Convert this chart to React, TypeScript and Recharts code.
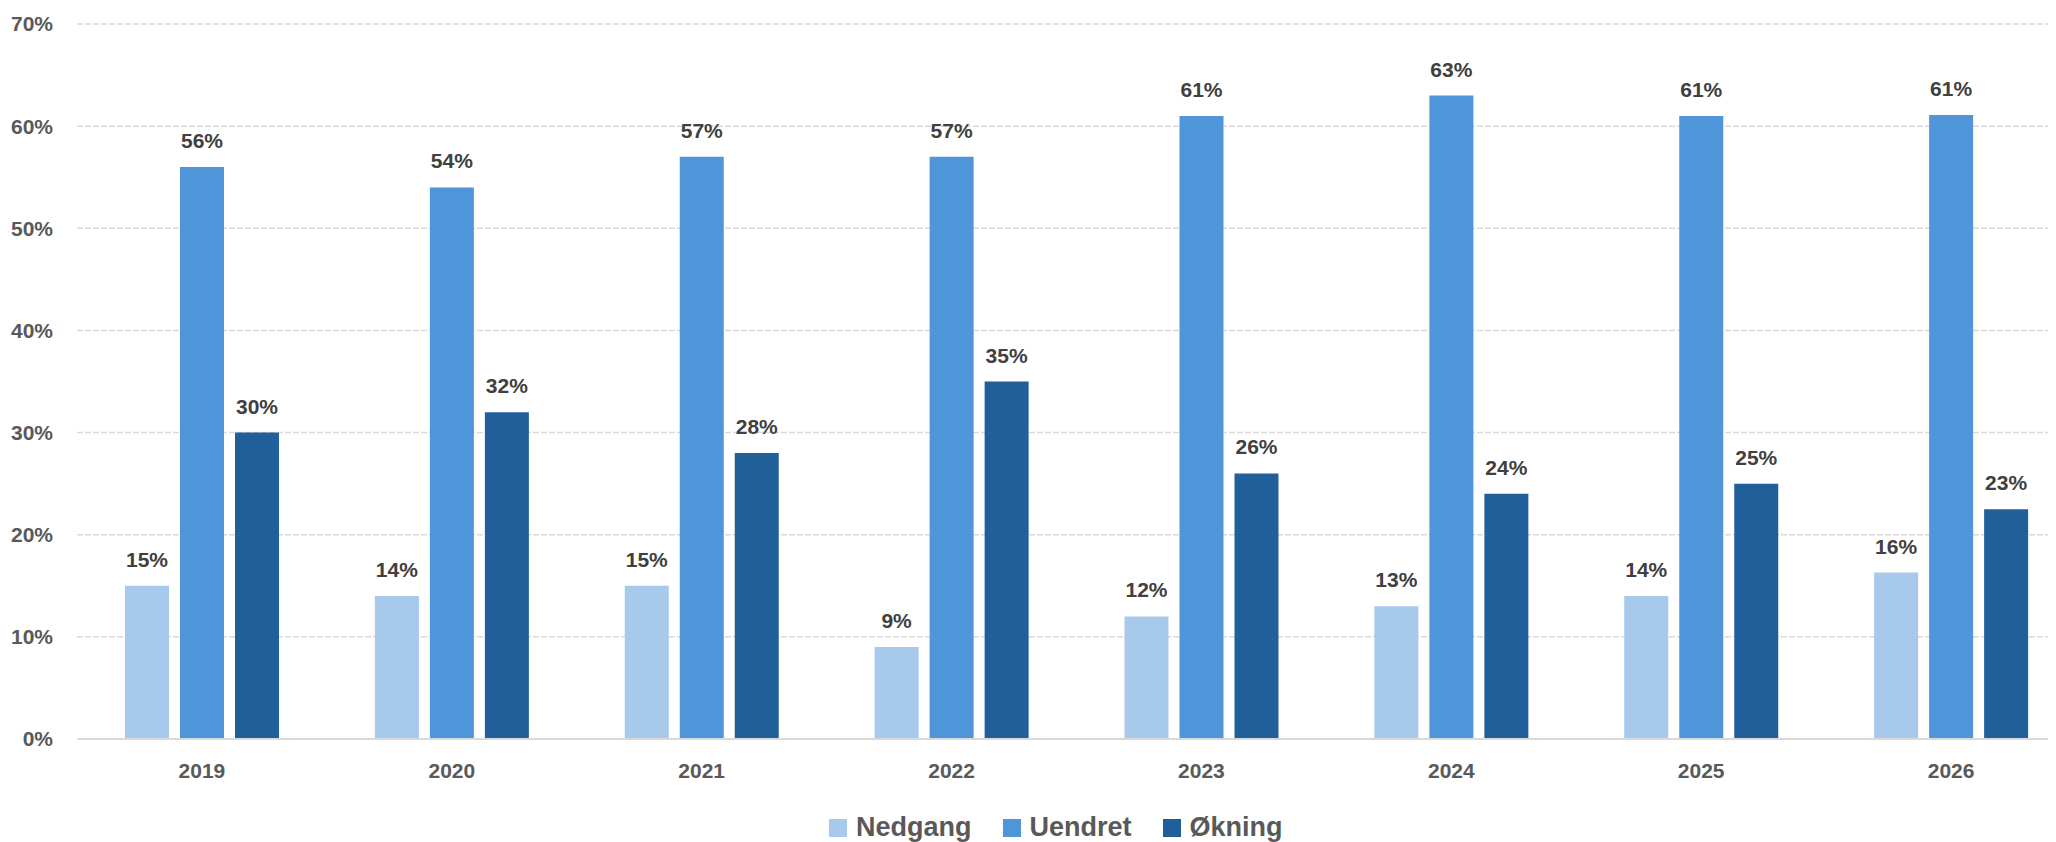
import { BarChart, Bar, XAxis, YAxis, CartesianGrid, Legend, LabelList } from "recharts";

const YEARS = ["2019", "2020", "2021", "2022", "2023", "2024", "2025", "2026"];
const NEDGANG = [15, 14, 15, 9, 12, 13, 14, 16.3];
const UENDRET = [56, 54, 57, 57, 61, 63, 61, 61.1];
const OKNING = [30, 32, 28, 35, 26, 24, 25, 22.5];
const Y_TICKS = [0, 10, 20, 30, 40, 50, 60, 70];

const SERIES = [
  { key: "nedgang", name: "Nedgang", color: "#A6C9EC" },
  { key: "uendret", name: "Uendret", color: "#4E95D9" },
  { key: "okning", name: "Økning", color: "#215F9A" },
];

const data = YEARS.map((year, i) => ({
  year,
  nedgang: NEDGANG[i],
  uendret: UENDRET[i],
  okning: OKNING[i],
}));

const FONT = '"Liberation Sans", Arial, sans-serif';

const LegendContent = () => (
  <div style={{ display: "flex", alignItems: "center", fontFamily: FONT }}>
    {SERIES.map((s, i) => (
      <div
        key={s.key}
        style={{ display: "flex", alignItems: "center", marginLeft: i === 0 ? 0 : 31 }}
      >
        <span style={{ width: 18, height: 18, background: s.color, display: "inline-block" }} />
        <span
          style={{
            marginLeft: 9,
            fontSize: 27,
            fontWeight: 700,
            color: "#595959",
            lineHeight: "27px",
          }}
        >
          {s.name}
        </span>
      </div>
    ))}
  </div>
);

export default function App() {
  return (
    <div style={{ width: 2048, height: 834, overflow: "hidden", position: "relative" }}>
      <BarChart
        width={2068}
        height={834}
        data={data}
        margin={{ top: 16, right: 0, left: 0, bottom: 0 }}
        barSize={44}
        barGap={11}
        style={{ fontFamily: FONT }}
      >
        <CartesianGrid
          vertical={false}
          stroke="#D9D9D9"
          strokeDasharray="6 2"
          strokeWidth={1.5}
        />
        <XAxis
          dataKey="year"
          height={103}
          tickLine={false}
          tickSize={0}
          tickMargin={24}
          axisLine={{ stroke: "#D9D9D9", strokeWidth: 2 }}
          tick={{ fill: "#595959", fontSize: 21, fontWeight: 700 }}
        />
        <YAxis
          width={69}
          domain={[0, 70]}
          ticks={Y_TICKS}
          interval={0}
          axisLine={false}
          tickLine={false}
          tickSize={0}
          tickMargin={24}
          tickFormatter={(v) => `${v}%`}
          tick={{ fill: "#595959", fontSize: 21, fontWeight: 700 }}
        />
        <Legend
          layout="horizontal"
          verticalAlign="middle"
          align="center"
          content={<LegendContent />}
          wrapperStyle={{ left: 821, top: 806, width: "auto", height: "auto" }}
        />
        {SERIES.map((s) => (
          <Bar key={s.key} dataKey={s.key} name={s.name} fill={s.color} isAnimationActive={false}>
            <LabelList
              dataKey={s.key}
              position="top"
              offset={19}
              formatter={(v: any) => `${Math.round(Number(v))}%`}
              style={{ fill: "#404040", fontSize: 21, fontWeight: 700 }}
            />
          </Bar>
        ))}
      </BarChart>
    </div>
  );
}
